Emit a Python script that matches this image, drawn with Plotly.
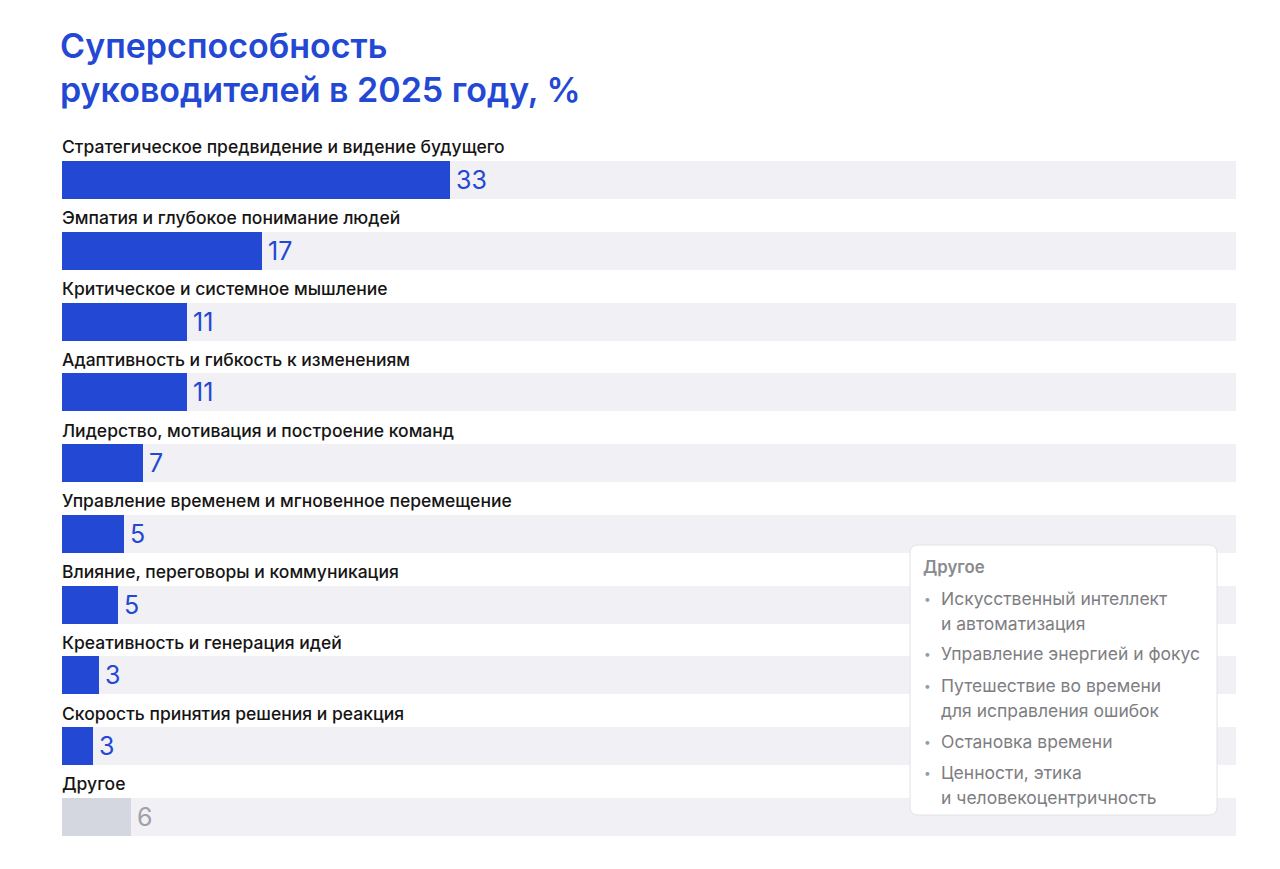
import plotly.graph_objects as go

# data
categories = [
    "Стратегическое предвидение и видение будущего",
    "Эмпатия и глубокое понимание людей",
    "Критическое и системное мышление",
    "Адаптивность и гибкость к изменениям",
    "Лидерство, мотивация и построение команд",
    "Управление временем и мгновенное перемещение",
    "Влияние, переговоры и коммуникация",
    "Креативность и генерация идей",
    "Скорость принятия решения и реакция",
    "Другое",
]
values = [33.05, 17.0, 10.65, 10.65, 6.9, 5.28, 4.77, 3.15, 2.64, 5.88]
value_labels = ["33", "17", "11", "11", "7", "5", "5", "3", "3", "6"]
track_max = 100

other_title = "Другое"
other_items = [
    ["Искусственный интеллект", "и автоматизация"],
    ["Управление энергией и фокус"],
    ["Путешествие во времени", "для исправления ошибок"],
    ["Остановка времени"],
    ["Ценности, этика", "и человекоцентричность"],
]

BLUE = "#2348D4"
GREY_BAR = "#D4D7DF"
TRACK = "#F0F0F5"
FONT = "Inter"

rows = list(range(len(categories)))
bar_colors = [BLUE] * (len(categories) - 1) + [GREY_BAR]
text_colors = [BLUE] * (len(categories) - 1) + ["#A0A0A6"]

fig = go.Figure()

# background tracks
fig.add_trace(go.Bar(
    x=[track_max] * len(rows), y=rows, orientation="h",
    marker=dict(color=TRACK, line=dict(width=0)),
    width=0.537, hoverinfo="skip", showlegend=False,
))
# value bars
fig.add_trace(go.Bar(
    x=values, y=rows, orientation="h",
    marker=dict(color=bar_colors, line=dict(width=0)),
    width=0.537, showlegend=False,
))

annotations = []
for i, (cat, v, lab) in enumerate(zip(categories, values, value_labels)):
    annotations.append(dict(
        x=0, y=i - 0.466, xref="x", yref="y", text=cat, showarrow=False,
        xanchor="left", yanchor="middle", xshift=-2,
        font=dict(family=FONT, size=17.5, color="#151515", weight=550),
    ))
    annotations.append(dict(
        x=v, y=i, xref="x", yref="y", text=lab, showarrow=False,
        xanchor="left", yanchor="middle", xshift=4,
        font=dict(family=FONT, size=25, color=text_colors[i], weight=400),
    ))

# inset box with the "other" breakdown (paper coords: x=(px-62)/1174, y=(845-py)/715)
def px_x(p):
    return (p - 62) / 1174


def px_y(p):
    return (845 - p) / 715


annotations.append(dict(
    x=px_x(921), y=px_y(567), xref="paper", yref="paper", text=other_title,
    showarrow=False, xanchor="left", yanchor="middle",
    font=dict(family=FONT, size=16.8, color="#8A8A8E", weight=600),
))
line_y = 598
for item in other_items:
    annotations.append(dict(
        x=px_x(922), y=px_y(line_y), xref="paper", yref="paper", text="•",
        showarrow=False, xanchor="left", yanchor="middle",
        font=dict(family=FONT, size=12, color="#9A9A9E"),
    ))
    for line in item:
        annotations.append(dict(
            x=px_x(939), y=px_y(line_y), xref="paper", yref="paper", text=line,
            showarrow=False, xanchor="left", yanchor="middle",
            font=dict(family=FONT, size=17.5, color="#7E7E82", weight=400),
        ))
        line_y += 25
    line_y += 6

x0, x1, y0, y1, r = px_x(910), px_x(1217), px_y(545), px_y(815), 8
rx, ry = r / 1174, r / 715
box_path = (
    f"M {x0 + rx},{y0} L {x1 - rx},{y0} Q {x1},{y0} {x1},{y0 - ry} "
    f"L {x1},{y1 + ry} Q {x1},{y1} {x1 - rx},{y1} "
    f"L {x0 + rx},{y1} Q {x0},{y1} {x0},{y1 + ry} "
    f"L {x0},{y0 - ry} Q {x0},{y0} {x0 + rx},{y0} Z"
)

# page has an 8px body margin, so the figure is sized/offset for it
W, H = 1272, 861
fig.update_layout(
    width=W, height=H,
    margin=dict(l=54, r=44, t=122, b=24, pad=0),
    paper_bgcolor="white", plot_bgcolor="white",
    barmode="overlay", bargap=0,
    title=dict(
        text="Суперспособность<br>руководителей в 2025 году, %",
        x=52 / W, xanchor="left", y=1 - 50 / H, yanchor="top",
        font=dict(family=FONT, size=34, color=BLUE, weight=600),
    ),
    xaxis=dict(range=[0, track_max], visible=False, fixedrange=True),
    yaxis=dict(range=[9.396, -0.706], visible=False, fixedrange=True),
    annotations=annotations,
    shapes=[dict(
        type="path", path=box_path, xref="paper", yref="paper",
        fillcolor="white", line=dict(color="#E2E2E6", width=1), layer="above",
    )],
    font=dict(family=FONT),
)

fig.write_html("out.html")
